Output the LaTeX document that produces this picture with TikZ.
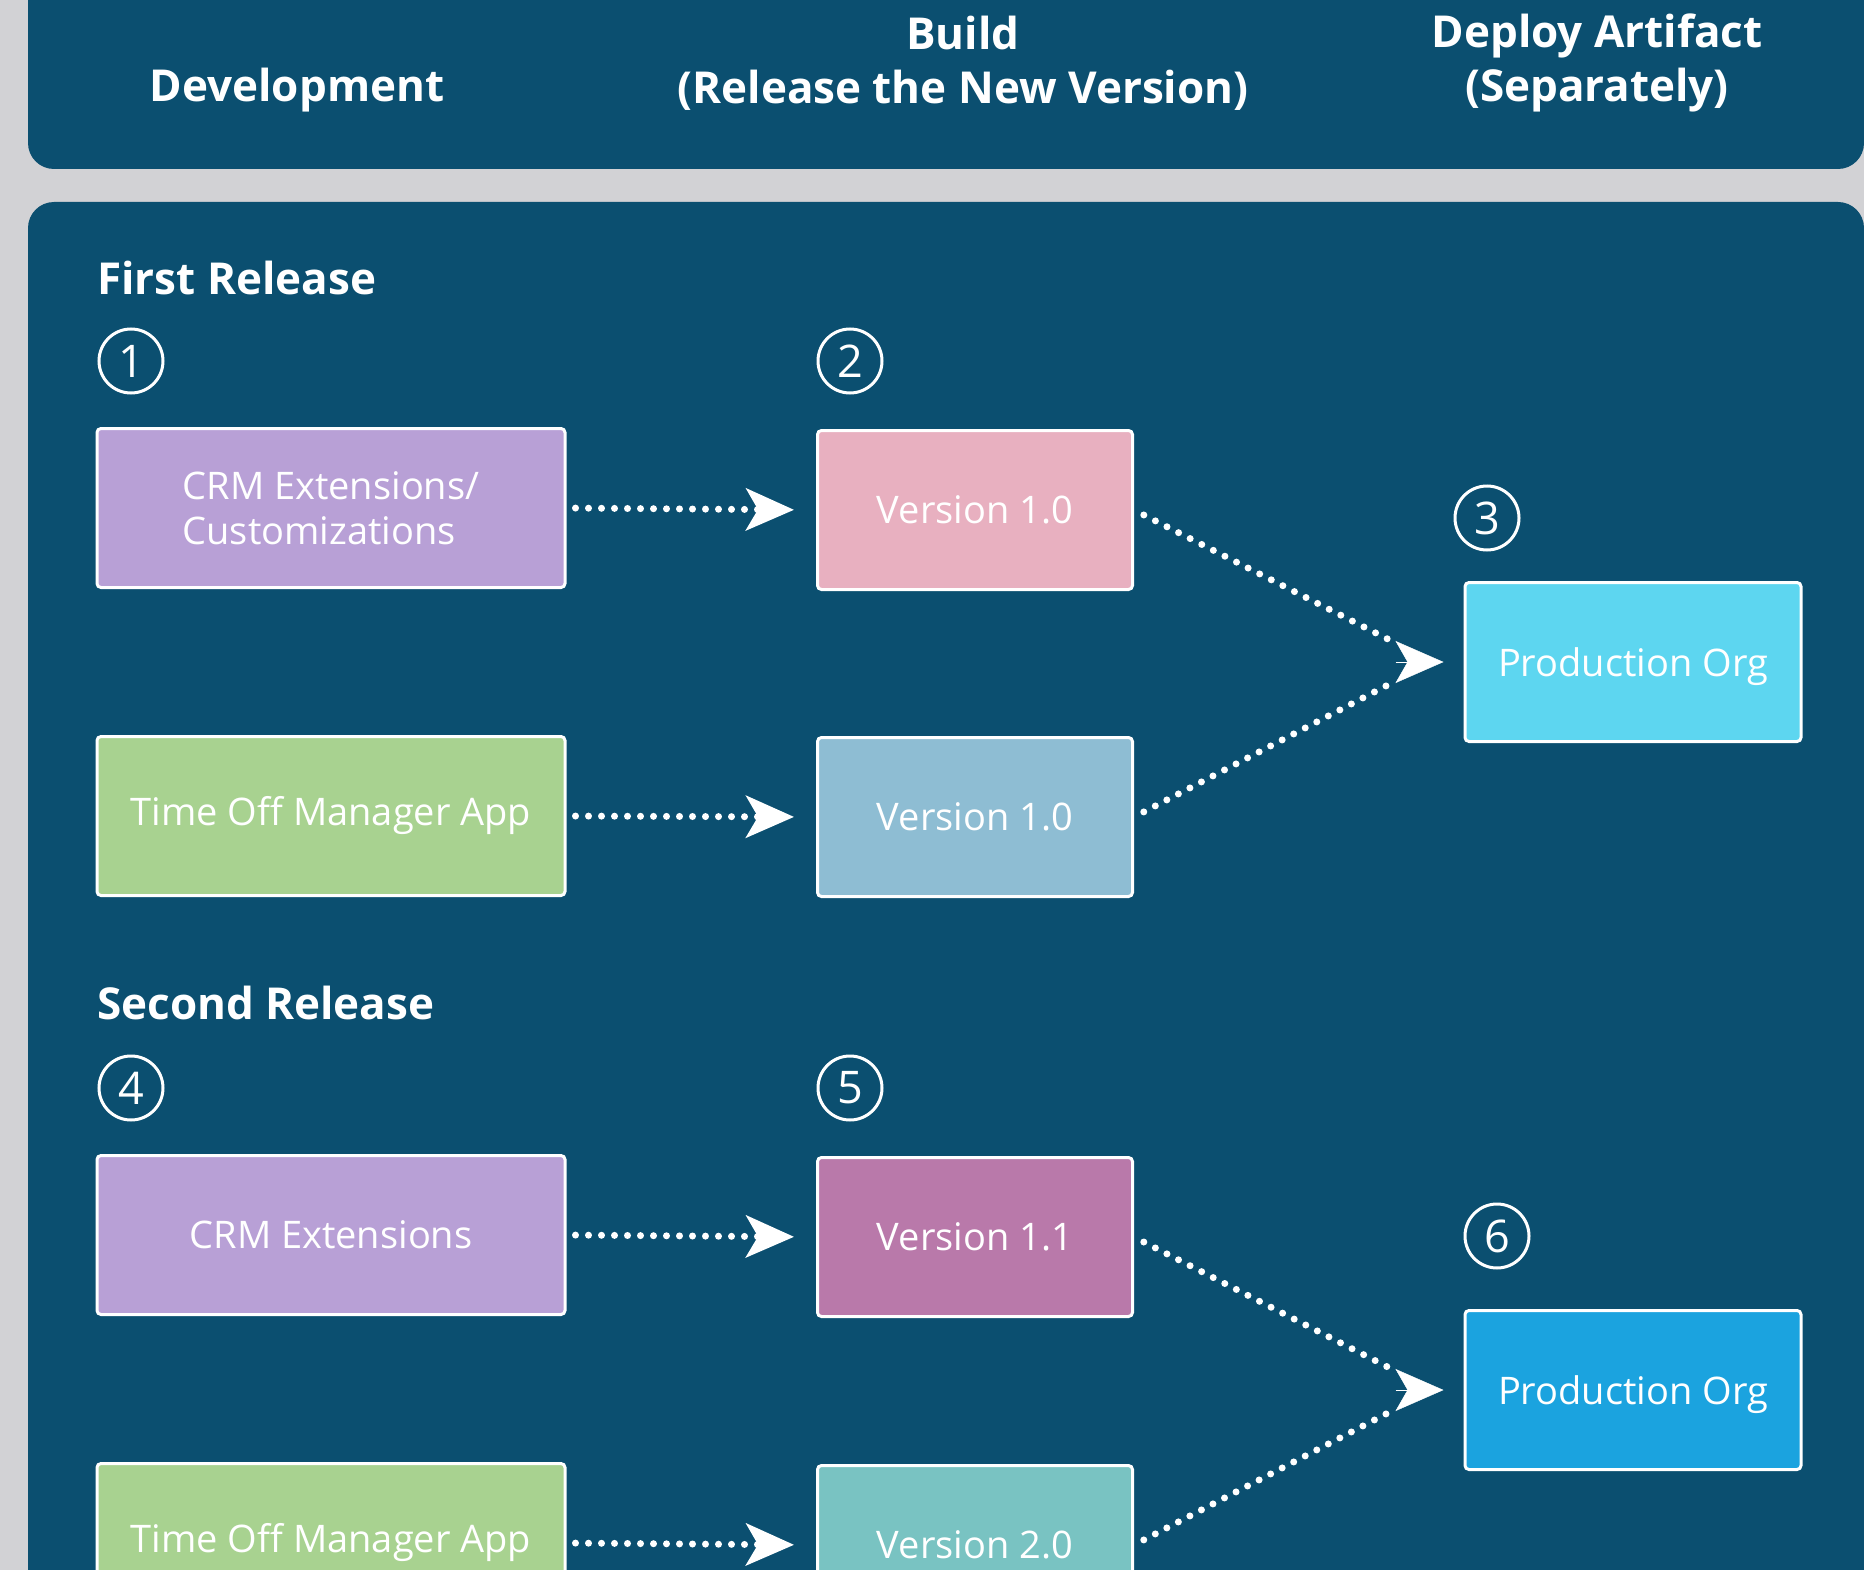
\documentclass[tikz,border=0pt]{standalone}
\usepackage{fontspec}
\setmainfont{Open Sans}
\usetikzlibrary{arrows.meta, positioning, calc}
\definecolor{cBack}{RGB}{210,210,213}
\definecolor{cPanel}{RGB}{11,79,112}
\definecolor{cCrm}{RGB}{184,160,214}
\definecolor{cPink}{RGB}{232,176,192}
\definecolor{cGreen}{RGB}{168,210,144}
\definecolor{cSky}{RGB}{142,189,211}
\definecolor{cProdA}{RGB}{93,214,240}
\definecolor{cMauve}{RGB}{185,121,170}
\definecolor{cProdB}{RGB}{27,163,223}
\definecolor{cTeal}{RGB}{121,195,194}

\begin{document}
\begin{tikzpicture}[x=1pt, y=-1pt,
    every node/.style={text=white, font=\fontsize{38}{45}\selectfont},
    head/.style={font=\fontsize{44}{54}\selectfont\bfseries, align=center},
    stage/.style={draw=white, line width=3pt, rounded corners=4pt, minimum height=159pt, inner sep=0pt, align=left},
    devbox/.style={stage, minimum width=468pt},
    verbox/.style={stage, minimum width=315pt},
    orgbox/.style={stage, minimum width=336pt, text depth=0pt},
    num/.style={circle, draw=white, line width=3pt, minimum size=64pt, inner sep=0pt, font=\fontsize{45}{45}\selectfont},
    dotline/.style={white, line width=7pt, line cap=round, dash pattern=on 0pt off 13pt},
    flow/.style={dotline, -{Stealth[length=48pt, width=42pt, inset=12pt]}, shorten <=9pt, shorten >=22pt},
    tiphead/.style={white, -{Stealth[length=48pt, width=42pt, inset=12pt]}}]

  \useasboundingbox (0,0) rectangle (1864,1570);
  \clip (0,0) rectangle (1864,1570);
  \fill[cBack] (0,0) rectangle (1864,1570);
  \fill[cPanel, rounded corners=26pt] (28,-60) rectangle (1864,169);
  \fill[cPanel, rounded corners=26pt] (28,202) rectangle (1864,1700);

  % column headings
  \node[head] (hdev) at (297,90) {Development};
  \node[head] (hbuild) at (963,63) {Build\\(Release the New Version)};
  \node[head] (hdeploy) at (1597,63) {Deploy Artifact\\(Separately)};

  \node[head, anchor=west, inner sep=0pt] (relA) at (97,278) {First Release};
  \node[head, anchor=west, inner sep=0pt] (relB) at (97,1003) {Second Release};

  \node[num] (n1) at (131,361) {1};
  \node[num] (n2) at (850,361) {2};
  \node[num] (n3) at (1487,518) {3};
  \node[num] (n4) at (131,1088) {4};
  \node[num] (n5) at (850,1088) {5};
  \node[num] (n6) at (1497,1236) {6};

  % first release
  \node[devbox, fill=cCrm] (crmA) at (331,508) {CRM Extensions/\\Customizations};
  \node[verbox, fill=cPink] (verA) at (975,510) {Version 1.0};
  \node[devbox, fill=cGreen] (timeA) at (331,816) {Time Off Manager App};
  \node[verbox, fill=cSky] (verB) at (975,817) {Version 1.0};
  \node[orgbox, fill=cProdA] (orgA) at (1633,662) {Production Org};

  % second release
  \node[devbox, fill=cCrm] (crmB) at (331,1235) {CRM Extensions};
  \node[verbox, fill=cMauve] (verC) at (975,1237) {Version 1.1};
  \node[orgbox, fill=cProdB] (orgB) at (1633,1390) {Production Org};
  \node[devbox, fill=cGreen] (timeB) at (331,1543) {Time Off Manager App};
  \node[verbox, fill=cTeal] (verD) at (975,1545) {Version 2.0};

  \foreach \a/\b in {crmA/verA, timeA/verB, crmB/verC, timeB/verD}
    \draw[flow] (\a.east) -- (\b.west);

  % deploy arrows meet in one head
  \coordinate (tipA) at ([xshift=-20pt]orgA.west);
  \coordinate (tipB) at ([xshift=-20pt]orgB.west);
  \draw[dotline, shorten <=11pt] (verA.east) -- ([xshift=-48pt, yshift=19pt]tipA);
  \draw[dotline, shorten <=11pt] (verB.east) -- ([xshift=-48pt, yshift=-19pt]tipA);
  \draw[tiphead] ([xshift=-48pt]tipA) -- (tipA);
  \draw[dotline, shorten <=11pt] (verC.east) -- ([xshift=-48pt, yshift=19pt]tipB);
  \draw[dotline, shorten <=11pt] (verD.east) -- ([xshift=-48pt, yshift=-19pt]tipB);
  \draw[tiphead] ([xshift=-48pt]tipB) -- (tipB);
\end{tikzpicture}
\end{document}
